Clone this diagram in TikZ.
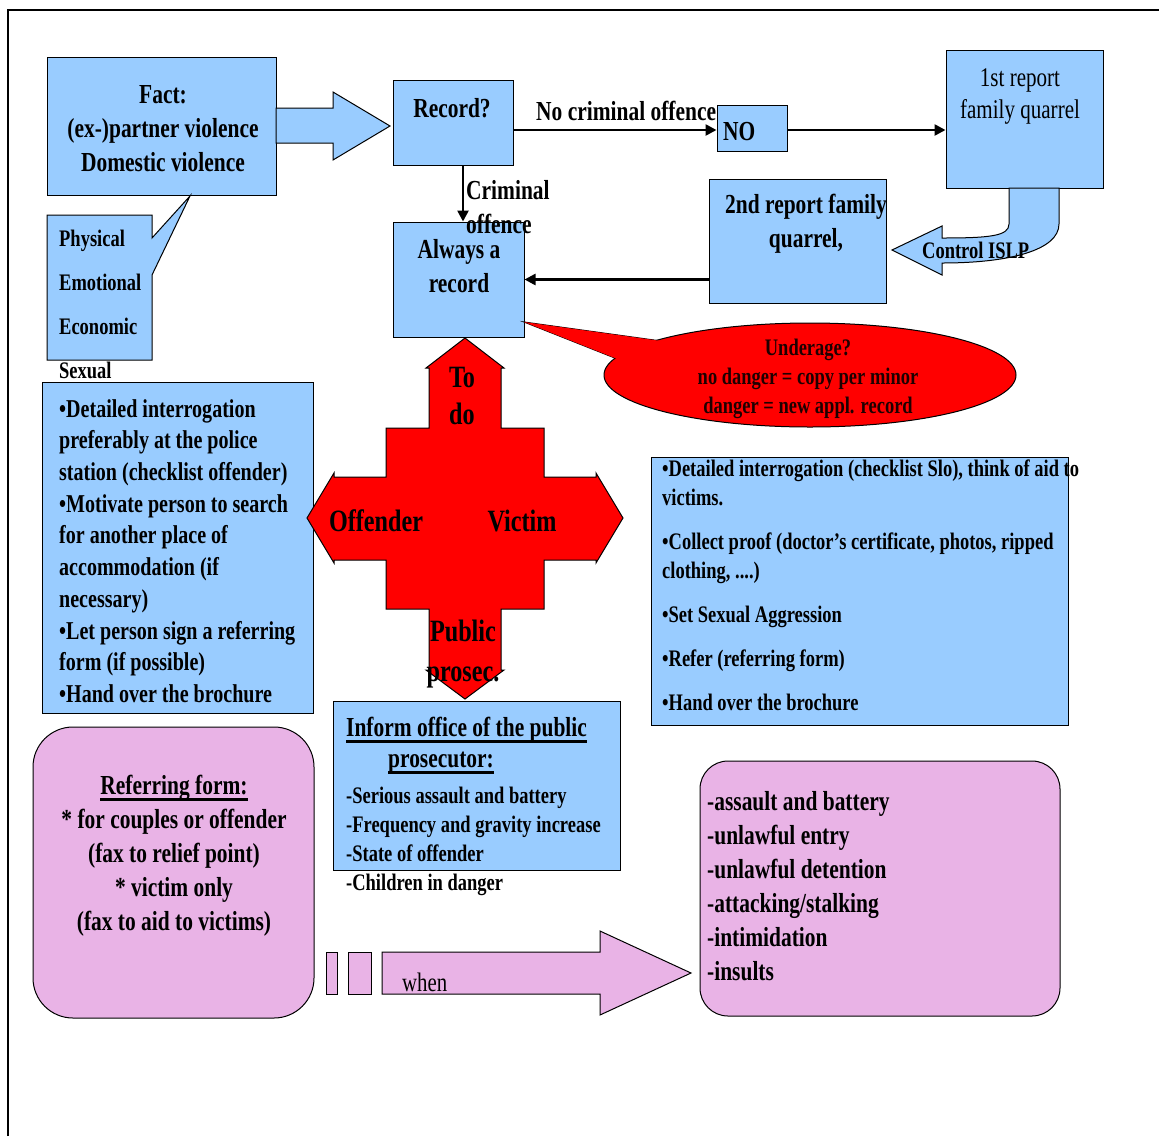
\documentclass[tikz,border=0pt]{standalone}
\usepackage{fontspec}
\setmainfont{Liberation Serif}[FakeStretch=0.78]
\usetikzlibrary{arrows.meta,shapes.geometric}
\definecolor{skyblue}{HTML}{99CCFF}
\definecolor{lilac}{HTML}{E9B3E6}
\definecolor{maroon}{HTML}{1E0000}
\newcommand {\panel}[6] {\node[#2, minimum width={(#5-#3)*1pt}, minimum height={(#6-#4)*1pt}] (#1) at ({(#3+#5)/2},{(#4+#6)/2}) {};}
\newcommand {\ulin}[1] {\leavevmode\setbox0\hbox{#1}\rlap{\rule[-6pt]{\wd0}{2.5pt}}\box0}

\begin{document}
\begin{tikzpicture}[x=1pt, y=-1pt,
	bluebox/.style={draw, fill=skyblue, line width=1pt, inner sep=0pt},
	pinkbox/.style={draw, fill=lilac, line width=1pt, inner sep=0pt, rounded corners=40pt},
	blockarrow/.style={draw, line width=1pt, line join=miter},
	conn/.style={line width=2.5pt, -{Triangle[length=11pt, width=11pt]}},
	bigtxt/.style={inner sep=0pt, font=\bfseries\fontsize{27.5}{34}\selectfont},
	midtxt/.style={inner sep=0pt, font=\bfseries\fontsize{23.7}{29}\selectfont}]
	\useasboundingbox (0,0) rectangle (1159,1136);
	\draw[line width=1.5pt] (8,1136) -- (8,10) -- (1159,10);
	\panel{fact}{bluebox}{47}{57}{276}{195}
	\draw[blockarrow, fill=skyblue] (276,108) -- (333,108) -- (333,92) -- (390,126) -- (333,160) -- (333,143) -- (276,143) -- cycle;
	\draw[blockarrow, fill=skyblue] (47,215) -- (152,215) -- (152,238) -- (190,196) -- (152,275) -- (152,360) -- (47,360) -- cycle;
	\panel{record}{bluebox}{393}{80}{513}{165}
	\panel{always}{bluebox}{393}{222}{524}{337}
	\panel{no}{bluebox}{717}{105}{787}{151}
	\panel{first}{bluebox}{946}{50}{1103}{188}
	\panel{second}{bluebox}{709}{179}{886}{303}
	\draw[blockarrow, fill=skyblue] (1009,188) -- (1009,224) .. controls (1009,236) and (990,238) .. (942,238) -- (942,226) -- (892,250) -- (942,275) -- (942,263) .. controls (1010,263) and (1059,250) .. (1059,224) -- (1059,188) -- cycle;
	\draw[conn] ([yshift=-2pt]record.east |- no.west) -- ([yshift=-2pt]no.west);
	\draw[conn] ([yshift=-2pt]no.east) -- ([yshift=-2pt]first.west |- no.east);
	\draw[conn] ([xshift=10pt]record.south) -- ([xshift=4.5pt]always.north);
	\draw[conn] (second.west |- always.east) -- (always.east);
	\draw[blockarrow, fill=red] (524,322) -- (690,345) -- (640,368) -- cycle;
	\node[ellipse, draw, line width=1pt, fill=red, minimum width=412pt, minimum height=104pt] (under) at (810,375) {};
	\fill[red] (524,322) -- (690,345) -- (640,368) -- cycle;
	\panel{offbox}{bluebox}{42}{382}{313}{713}
	\panel{vicbox}{bluebox}{651}{457}{1068}{725}
	\draw[blockarrow, fill=red] (465,338) -- (504,368) -- (501,368) -- (501,428) -- (544,428) -- (544,477) -- (596,477) -- (596,473) -- (623,518) -- (596,563) -- (596,560) -- (544,560) -- (544,609) -- (501,609) -- (501,670) -- (504,670) -- (465,699) -- (426,670) -- (429,670) -- (429,609) -- (386,609) -- (386,560) -- (334,560) -- (334,563) -- (307,518) -- (334,473) -- (334,477) -- (386,477) -- (386,428) -- (429,428) -- (429,368) -- (426,368) -- cycle;
	\panel{inform}{bluebox}{333}{701}{620}{870}
	\panel{referbox}{pinkbox}{33}{727}{314}{1018}
	\panel{crimebox}{pinkbox, rounded corners=28pt}{700}{761}{1060}{1016}
	\draw[blockarrow, fill=lilac] (326,952) rectangle (337,994);
	\draw[blockarrow, fill=lilac] (348,952) rectangle (371,994);
	\draw[blockarrow, fill=lilac] (382,952) -- (600,952) -- (600,931) -- (691,973) -- (600,1015) -- (600,994) -- (382,994) -- cycle;
	\node[bigtxt, align=center] (facttxt) at (163,129) {Fact:\\(ex-)partner violence\\Domestic violence};
	\node[inner sep=0pt, font=\bfseries\fontsize{23.7}{44}\selectfont, align=left, anchor=west] (kinds) at (59,304) {Physical\\Emotional\\Economic\\Sexual};
	\node[bigtxt] (recordtxt) at (452,108) {Record?};
	\node[bigtxt, align=left, anchor=west] (crimtxt) at (466,207) {Criminal\\offence};
	\node[bigtxt, align=center] (alwaystxt) at (459,266) {Always a\\record};
	\node[bigtxt, anchor=west] (nocrim) at (536,111) {No criminal offence};
	\node[bigtxt, anchor=west] (notxt) at (723,132) {NO};
	\node[inner sep=0pt, font=\fontsize{27}{32}\selectfont, align=center] (firsttxt) at (1020,96) {1st report\\family quarrel};
	\node[bigtxt, align=center] (secondtxt) at (806,224) {2nd report family\\quarrel,};
	\node[midtxt, anchor=west] (islp) at (922,250) {Control ISLP};
	\node[midtxt, text=maroon, align=center] (undertxt) at (808,379) {Underage?\\no danger = copy per minor\\danger = new appl. record};
	\node[inner sep=0pt, font=\bfseries\fontsize{31}{37}\selectfont, align=center] (todo) at (462,396) {To\\do};
	\node[inner sep=0pt, font=\bfseries\fontsize{31}{37}\selectfont] (offtxt) at (376,521) {Offender};
	\node[inner sep=0pt, font=\bfseries\fontsize{31}{37}\selectfont] (victxt) at (522,521) {Victim};
	\node[inner sep=0pt, font=\bfseries\fontsize{31}{40}\selectfont, align=center] (pubtxt) at (463,654) {Public\\prosec.};
	\node[inner sep=0pt, font=\bfseries\fontsize{25.7}{31.7}\selectfont, align=left, anchor=west] (offlist) at (59,551) {•Detailed interrogation\\preferably at the police\\station (checklist offender)\\•Motivate person to search\\for another place of\\accommodation (if\\necessary)\\•Let person sign a referring\\form (if possible)\\•Hand over the brochure};
	\node[midtxt, align=left, anchor=west] (viclist) at (662,585) {•Detailed interrogation (checklist Slo), think of aid to\\victims.\\[15pt]•Collect proof (doctor’s certificate, photos, ripped\\clothing, ....)\\[15pt]•Set Sexual Aggression\\[15pt]•Refer (referring form)\\[15pt]•Hand over the brochure};
	\node[bigtxt, anchor=west] (informtxt) at (346,730) {\ulin{Inform office of the public}};
	\node[bigtxt, anchor=west] (prostxt) at (388,763) {\ulin{prosecutor:}};
	\node[midtxt, align=left, anchor=west] (informlist) at (346,841) {-Serious assault and battery\\-Frequency and gravity increase\\-State of offender\\-Children in danger};
	\node[bigtxt, align=center] (refertxt) at (174,856) {\ulin{Referring form:}\\* for couples or offender\\(fax to relief point)\\* victim only\\(fax to aid to victims)};
	\node[bigtxt, align=left, anchor=west] (crimelist) at (707,886) {-assault and battery\\-unlawful entry\\-unlawful detention\\-attacking/stalking\\-intimidation\\-insults};
	\node[inner sep=0pt, font=\fontsize{26.7}{32}\selectfont, anchor=west] (when) at (402,982) {when};
\end{tikzpicture}
\end{document}
